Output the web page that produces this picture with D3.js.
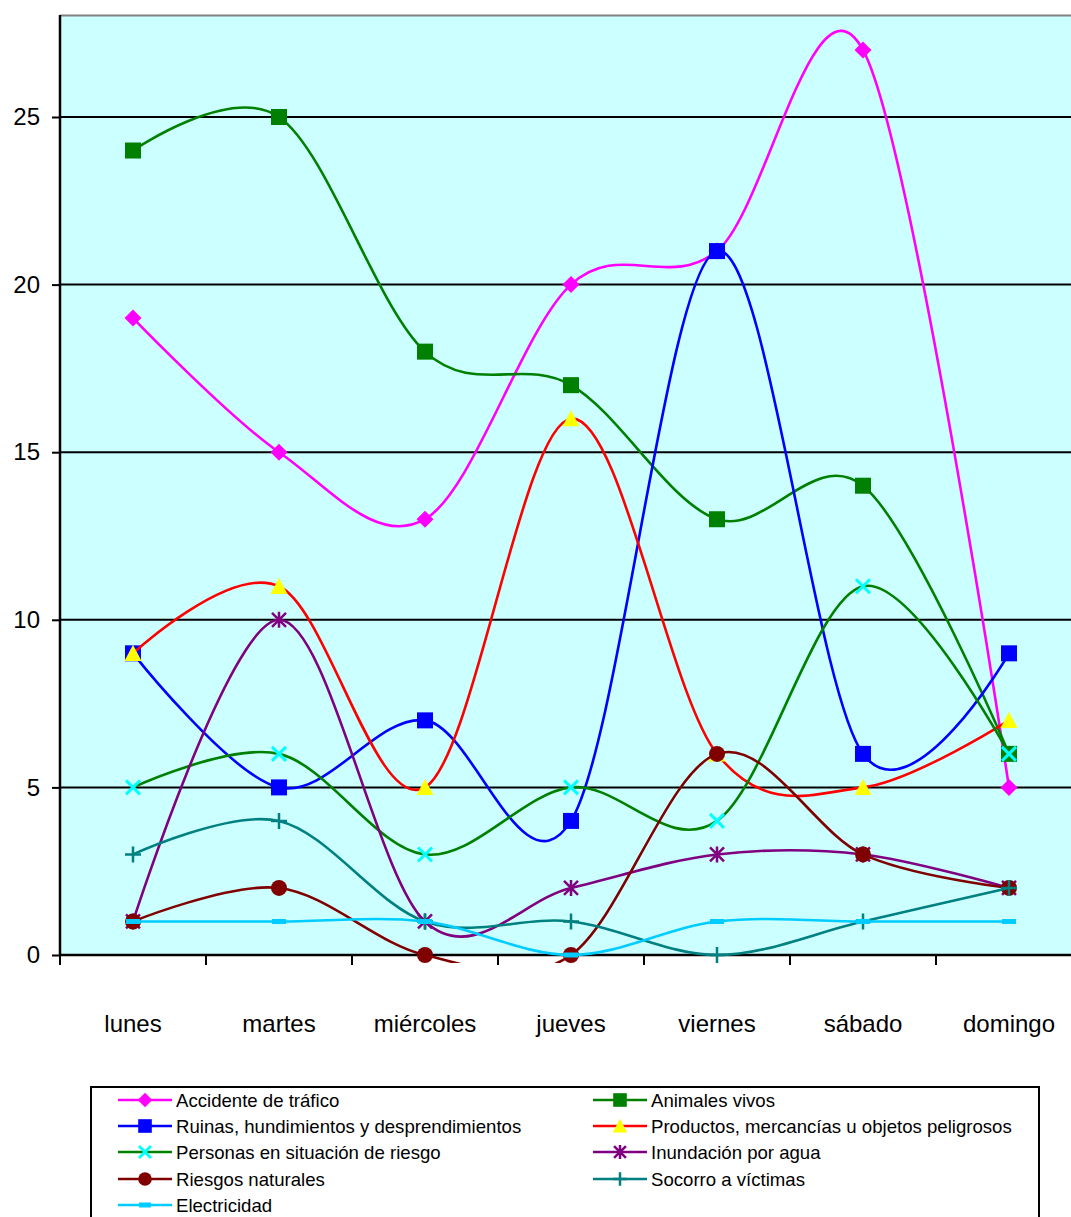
<!DOCTYPE html>
<html><head><meta charset="utf-8">
<script src="https://cdn.jsdelivr.net/npm/d3@7"></script>
<style>body{margin:0;background:#fff;}svg{display:block;font-family:"Liberation Sans",Arial,sans-serif;}</style>
</head><body>
<svg id="c" width="1071" height="1217"></svg>
<script>
const categories = ["lunes","martes","miércoles","jueves","viernes","sábado","domingo"];
const yTicks = [0,5,10,15,20,25];
const seriesNames = ["Accidente de tráfico","Animales vivos","Ruinas, hundimientos y desprendimientos","Productos, mercancías u objetos peligrosos","Personas en situación de riesgo","Inundación por agua","Riesgos naturales","Socorro a víctimas","Electricidad"];
const accidente  = [19,15,13,20,21,27,5];
const animales   = [24,25,18,17,13,14,6];
const ruinas     = [9,5,7,4,21,6,9];
const productos  = [9,11,5,16,6,5,7];
const personas   = [5,6,3,5,4,11,6];
const inundacion = [1,10,1,2,3,3,2];
const riesgos    = [1,2,0,0,6,3,2];
const socorro    = [3,4,1,1,0,1,2];
const electricidad = [1,1,1,0,1,1,1];
const seriesValues = [accidente,animales,ruinas,productos,personas,inundacion,riesgos,socorro,electricidad];
const lineColors = ["#FF00FF","#008000","#0000FF","#FF0000","#008000","#800080","#800000","#008080","#00CCFF"];
const markerFill = ["#FF00FF","#008000","#0000FF","#FFFF00","#00FFFF","#800080","#800000","#008080","#00CCFF"];
const markerType = ["diamond","square","square","triangle","x","asterisk","circle","plus","dash"];

const svg = d3.select("#c");
const pL = 60, pR = 1082, pT = 15;
const x = d3.scaleBand().domain(categories).range([pL, pR]);
const y = d3.scaleLinear().domain([0,25]).range([955,117]);
const pB = y(0);

svg.append("rect").attr("x",pL).attr("y",pT).attr("width",pR-pL).attr("height",pB-pT).attr("fill","#CCFFFF");
svg.append("line").attr("x1",pL).attr("x2",pR).attr("y1",pT+0.5).attr("y2",pT+0.5).attr("stroke","#808080").attr("stroke-width",2);
// grid
svg.append("g").selectAll("line").data(yTicks.filter(d=>d>0)).join("line")
  .attr("x1",pL).attr("x2",pR).attr("y1",d=>y(d)).attr("y2",d=>y(d))
  .attr("stroke","#000").attr("stroke-width",2);

// axes
const yAxis = d3.axisLeft(y).tickValues(yTicks).tickSize(8).tickPadding(12);
const gy = svg.append("g").attr("transform",`translate(${pL},0)`).call(yAxis);
gy.select(".domain").attr("d",`M0,${pT}V${pB}`).attr("stroke","#000").attr("stroke-width",2.5);
gy.selectAll(".tick line").attr("stroke","#000").attr("stroke-width",2);
gy.selectAll(".tick text").attr("font-size",24).attr("fill","#000").attr("font-family","Liberation Sans, Arial, sans-serif");

const xTickPos = d3.range(categories.length+1).map(i=>pL + i*x.step());
const gx = svg.append("g");
gx.append("line").attr("x1",pL).attr("x2",pR).attr("y1",pB).attr("y2",pB).attr("stroke","#000").attr("stroke-width",2.5);
gx.selectAll("line.t").data(xTickPos).join("line").attr("class","t")
  .attr("x1",d=>d).attr("x2",d=>d).attr("y1",pB).attr("y2",pB+10).attr("stroke","#000").attr("stroke-width",2);
gx.selectAll("text").data(categories).join("text")
  .attr("x",d=>x(d)+x.bandwidth()/2).attr("y",1032).attr("text-anchor","middle")
  .attr("font-size",24).attr("fill","#000").text(d=>d);

// clip
svg.append("defs").append("clipPath").attr("id","clip").append("rect")
  .attr("x",pL).attr("y",pT).attr("width",pR-pL).attr("height",pB-pT+8);

const line = d3.line().x((d,i)=>x(categories[i])+x.bandwidth()/2).y(d=>y(d)).curve(d3.curveCatmullRom.alpha(0));
const plot = svg.append("g").attr("clip-path","url(#clip)");

function drawMarker(g, type, cx, cy, fill, stroke, s){
  s = s||1;
  if(type==="diamond"){
    const r=8.5*s;
    g.append("path").attr("d",`M${cx},${cy-r}L${cx+r},${cy}L${cx},${cy+r}L${cx-r},${cy}Z`).attr("fill",fill);
  } else if(type==="square"){
    const r=8*s;
    g.append("rect").attr("x",cx-r).attr("y",cy-r).attr("width",2*r).attr("height",2*r).attr("fill",fill);
  } else if(type==="triangle"){
    const r=8.5*s;
    g.append("path").attr("d",`M${cx},${cy-r}L${cx+r},${cy+r*0.9}L${cx-r},${cy+r*0.9}Z`).attr("fill",fill);
  } else if(type==="x"){
    const r=7*s;
    g.append("path").attr("d",`M${cx-r},${cy-r}L${cx+r},${cy+r}M${cx+r},${cy-r}L${cx-r},${cy+r}`).attr("stroke",fill).attr("stroke-width",3);
  } else if(type==="asterisk"){
    const r=7*s;
    g.append("path").attr("d",`M${cx-r},${cy-r}L${cx+r},${cy+r}M${cx+r},${cy-r}L${cx-r},${cy+r}M${cx},${cy-r-1}L${cx},${cy+r+1}`).attr("stroke",fill).attr("stroke-width",2.5);
  } else if(type==="circle"){
    g.append("circle").attr("cx",cx).attr("cy",cy).attr("r",8*s).attr("fill",fill);
  } else if(type==="plus"){
    const r=8*s;
    g.append("path").attr("d",`M${cx-r},${cy}L${cx+r},${cy}M${cx},${cy-r}L${cx},${cy+r}`).attr("stroke",fill).attr("stroke-width",2.5);
  } else if(type==="dash"){
    g.append("rect").attr("x",cx-7*s).attr("y",cy-2.5).attr("width",14*s).attr("height",5).attr("fill",fill);
  }
}

seriesValues.forEach((vals,k)=>{
  const g = plot.append("g");
  g.append("path").datum(vals).attr("d",line).attr("fill","none").attr("stroke",lineColors[k]).attr("stroke-width",2.6);
  vals.forEach((v,i)=>drawMarker(g, markerType[k], x(categories[i])+x.bandwidth()/2, y(v), markerFill[k], lineColors[k]));
});

// legend
const lg = svg.append("g");
lg.append("rect").attr("x",91).attr("y",1087).attr("width",948).attr("height",150).attr("fill","#fff").attr("stroke","#000").attr("stroke-width",2);
const rowY = [1100,1126,1152,1179,1205];
seriesNames.forEach((name,k)=>{
  const col = k%2, row = Math.floor(k/2);
  const x0 = col===0 ? 118 : 593;
  const cy = rowY[row];
  const g = lg.append("g");
  g.append("line").attr("x1",x0).attr("x2",x0+54).attr("y1",cy).attr("y2",cy).attr("stroke",lineColors[k]).attr("stroke-width",2.6);
  drawMarker(g, markerType[k], x0+27, cy, markerFill[k], lineColors[k], 0.85);
  g.append("text").attr("x",x0+58).attr("y",cy+6.5).attr("font-size",18.6).attr("fill","#000").text(name);
});
</script>
</body></html>
